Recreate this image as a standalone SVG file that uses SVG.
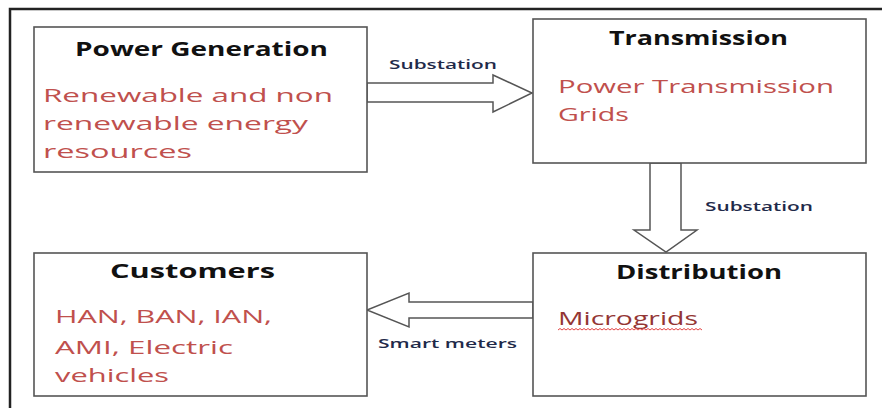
<svg xmlns="http://www.w3.org/2000/svg" width="882" height="408" viewBox="0 0 882 408">
<style>
.box{fill:#fff;stroke:#555;stroke-width:1.6}
.arr{fill:#fff;stroke:#555;stroke-width:1.5;stroke-linejoin:miter}
.title{font-family:"Open Sans","Liberation Sans",sans-serif;font-weight:700;font-size:19px;fill:#111}
.body{font-family:"Open Sans","Liberation Sans",sans-serif;font-size:18px;fill:#C0504D}
.lbl{font-family:"Open Sans","Liberation Sans",sans-serif;font-weight:600;font-size:13px;fill:#1F2A4A}
</style>
<rect width="882" height="408" fill="#fff"/>
<path d="M10,408 V9 H882" fill="none" stroke="#222" stroke-width="2.5"/>
<g id="connectors">
<polygon class="arr" points="367,83 493,83 493,75 532,93 493,112 493,102 367,102"/>
<text class="lbl" x="389" y="69" textLength="108" lengthAdjust="spacingAndGlyphs">Substation</text>
<polygon class="arr" points="650,163 681,163 681,230 697,230 666,252 634,230 650,230"/>
<text class="lbl" x="705" y="211" textLength="108" lengthAdjust="spacingAndGlyphs">Substation</text>
<polygon class="arr" points="533,302 409,302 409,293 367,310 409,327 409,318 533,318"/>
<text class="lbl" x="378" y="348" textLength="139" lengthAdjust="spacingAndGlyphs">Smart meters</text>
</g>
<g id="power-generation">
<rect class="box" x="34" y="27" width="333" height="145"/>
<text class="title" x="75" y="56" textLength="253" lengthAdjust="spacingAndGlyphs">Power Generation</text>
<text class="body" x="43" y="102" textLength="290" lengthAdjust="spacingAndGlyphs">Renewable and non</text>
<text class="body" x="43" y="130" textLength="265" lengthAdjust="spacingAndGlyphs">renewable energy</text>
<text class="body" x="43" y="158" textLength="149" lengthAdjust="spacingAndGlyphs">resources</text>
</g>
<g id="transmission">
<rect class="box" x="533" y="19" width="333" height="144"/>
<text class="title" x="609" y="45" textLength="179" lengthAdjust="spacingAndGlyphs">Transmission</text>
<text class="body" x="558" y="93" textLength="276" lengthAdjust="spacingAndGlyphs">Power Transmission</text>
<text class="body" x="558" y="121" textLength="71" lengthAdjust="spacingAndGlyphs">Grids</text>
</g>
<g id="distribution">
<rect class="box" x="533" y="253" width="333" height="143"/>
<text class="title" x="616" y="279" textLength="166" lengthAdjust="spacingAndGlyphs">Distribution</text>
<text class="body" x="558" y="325" textLength="140" lengthAdjust="spacingAndGlyphs" style="fill:#943634">Microgrids</text>
<path d="M558,330 l2,-1.5 l2,1.5 l2,-1.5 l2,1.5 l2,-1.5 l2,1.5 l2,-1.5 l2,1.5 l2,-1.5 l2,1.5 l2,-1.5 l2,1.5 l2,-1.5 l2,1.5 l2,-1.5 l2,1.5 l2,-1.5 l2,1.5 l2,-1.5 l2,1.5 l2,-1.5 l2,1.5 l2,-1.5 l2,1.5 l2,-1.5 l2,1.5 l2,-1.5 l2,1.5 l2,-1.5 l2,1.5 l2,-1.5 l2,1.5 l2,-1.5 l2,1.5 l2,-1.5 l2,1.5 l2,-1.5 l2,1.5 l2,-1.5 l2,1.5 l2,-1.5 l2,1.5 l2,-1.5 l2,1.5 l2,-1.5 l2,1.5 l2,-1.5 l2,1.5 l2,-1.5 l2,1.5 l2,-1.5 l2,1.5 l2,-1.5 l2,1.5 l2,-1.5 l2,1.5 l2,-1.5 l2,1.5 l2,-1.5 l2,1.5 l2,-1.5 l2,1.5 l2,-1.5 l2,1.5 l2,-1.5 l2,1.5 l2,-1.5 l2,1.5 l2,-1.5 l2,1.5 l2,-1.5 l2,1.5" fill="none" stroke="#E03030" stroke-width="0.9"/>
</g>
<g id="customers">
<rect class="box" x="34" y="253" width="333" height="143"/>
<text class="title" x="110" y="278" textLength="165" lengthAdjust="spacingAndGlyphs">Customers</text>
<text class="body" x="55" y="323" textLength="217" lengthAdjust="spacingAndGlyphs">HAN, BAN, IAN,</text>
<text class="body" x="55" y="354" textLength="178" lengthAdjust="spacingAndGlyphs">AMI, Electric</text>
<text class="body" x="55" y="382" textLength="114" lengthAdjust="spacingAndGlyphs">vehicles</text>
</g>
</svg>
